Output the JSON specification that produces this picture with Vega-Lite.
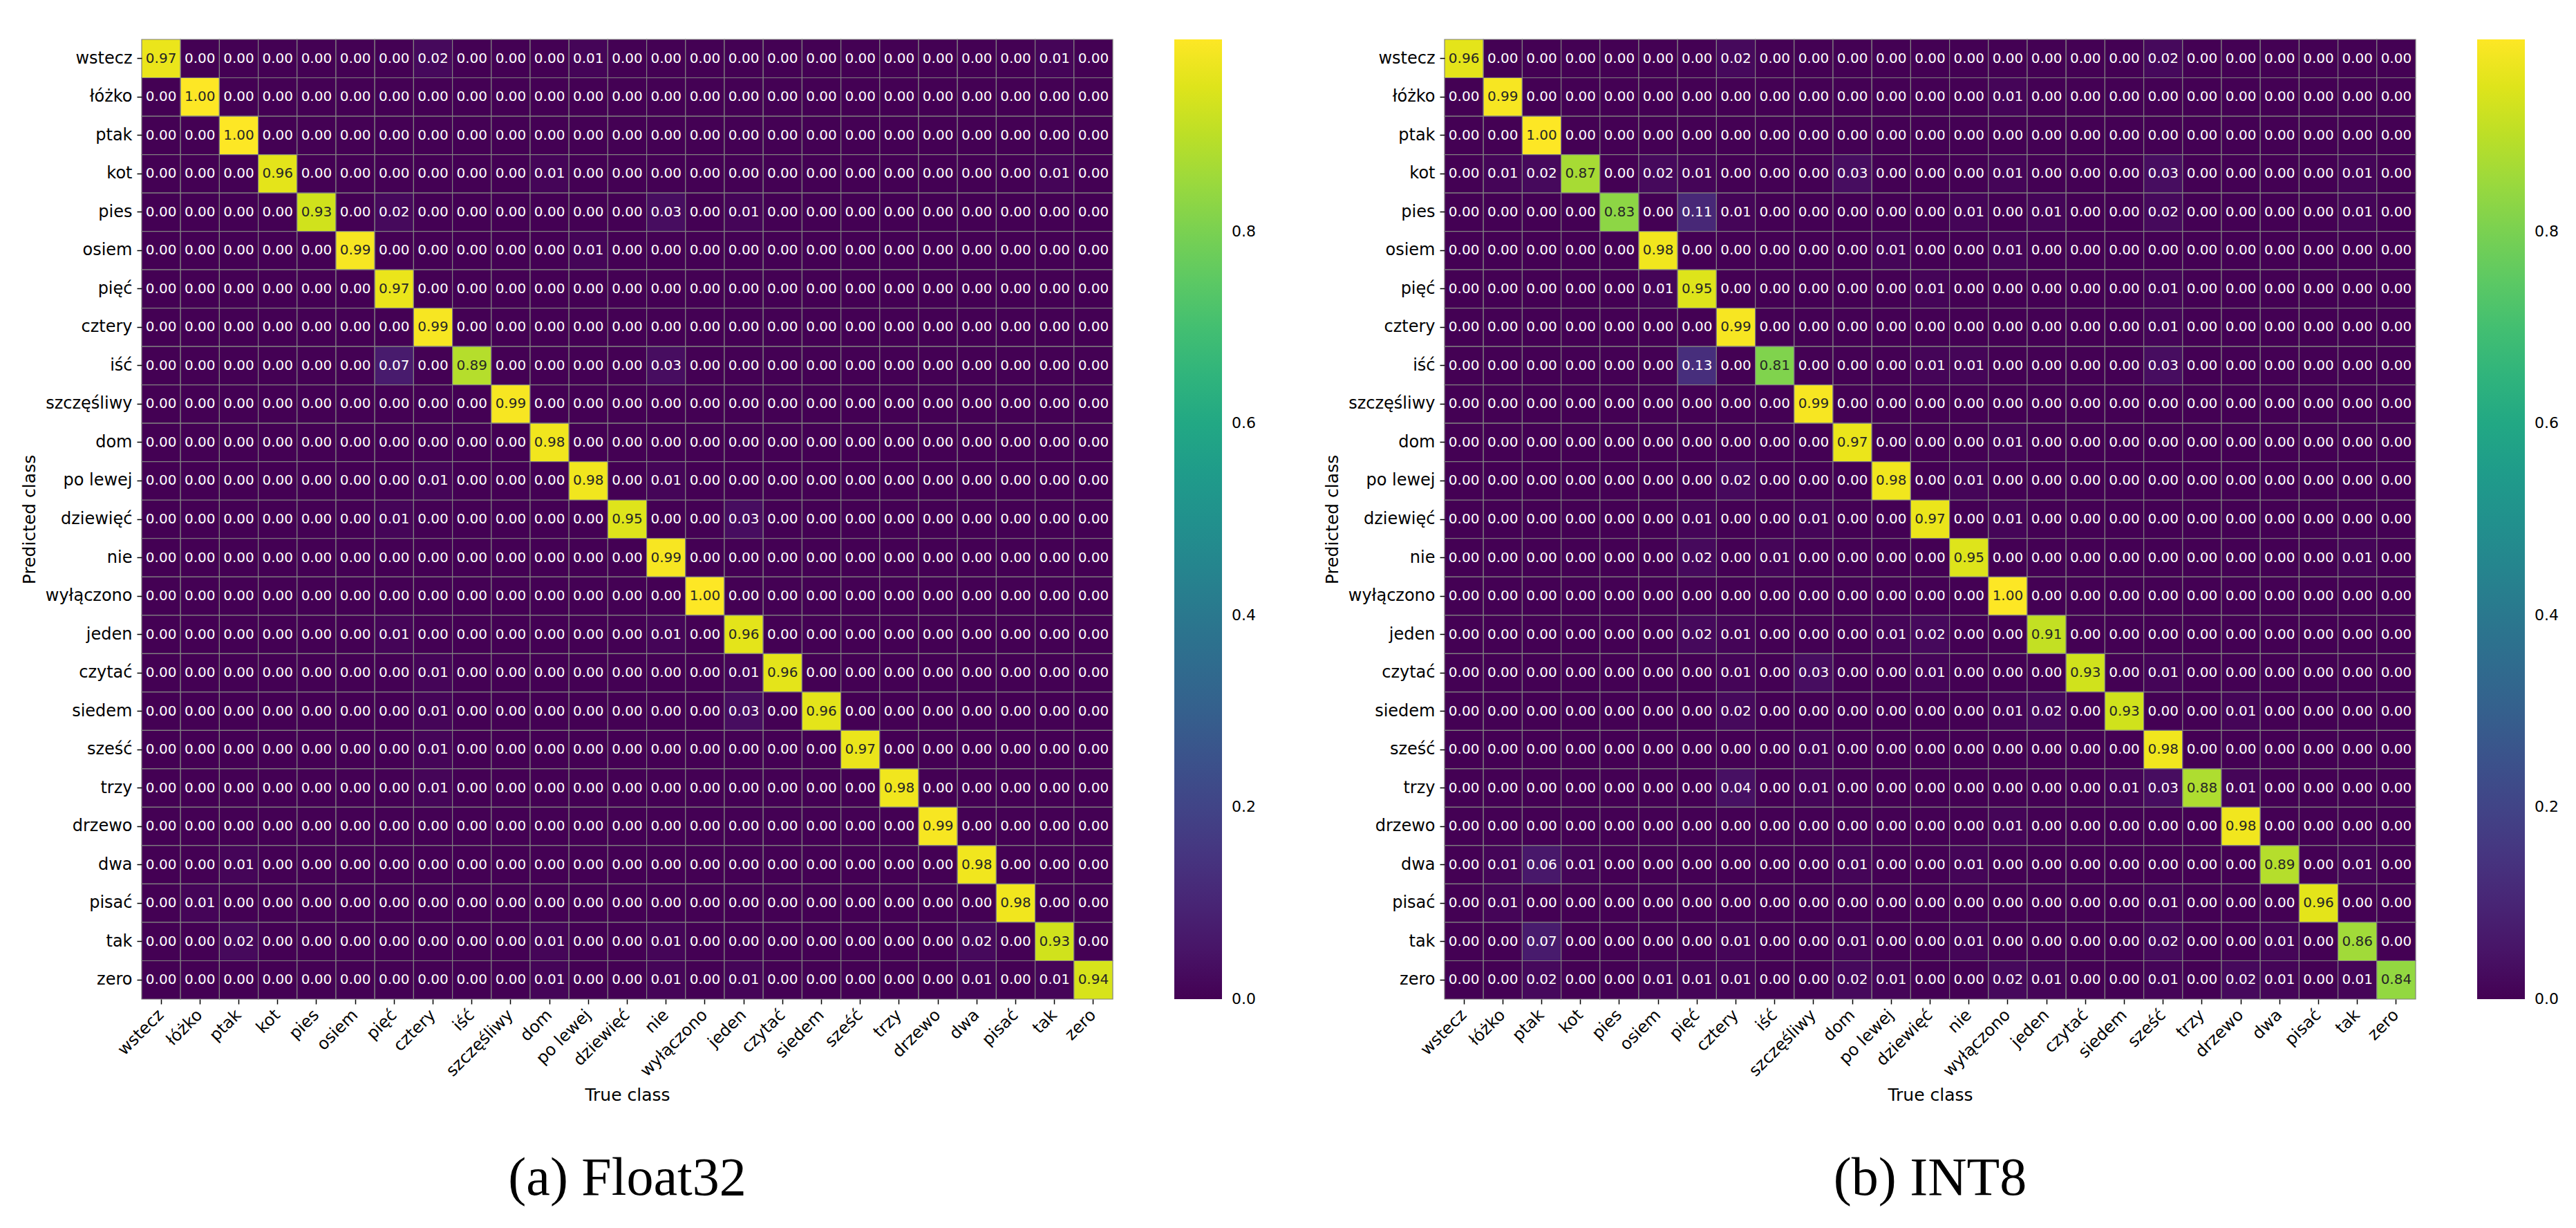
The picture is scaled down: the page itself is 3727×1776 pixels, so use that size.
{
  "$schema": "https://vega.github.io/schema/vega-lite/v6.json",
  "background": "white",
  "padding": {"left": 30, "top": 56, "right": 16, "bottom": 10},
  "spacing": 98,
  "datasets": {
    "float32": [
      {"p":"wstecz","t":"wstecz","v":0.97},{"p":"wstecz","t":"łóżko","v":0},{"p":"wstecz","t":"ptak","v":0},{"p":"wstecz","t":"kot","v":0},{"p":"wstecz","t":"pies","v":0},{"p":"wstecz","t":"osiem","v":0},{"p":"wstecz","t":"pięć","v":0},{"p":"wstecz","t":"cztery","v":0.02},{"p":"wstecz","t":"iść","v":0},{"p":"wstecz","t":"szczęśliwy","v":0},{"p":"wstecz","t":"dom","v":0},{"p":"wstecz","t":"po lewej","v":0.01},{"p":"wstecz","t":"dziewięć","v":0},{"p":"wstecz","t":"nie","v":0},{"p":"wstecz","t":"wyłączono","v":0},{"p":"wstecz","t":"jeden","v":0},{"p":"wstecz","t":"czytać","v":0},{"p":"wstecz","t":"siedem","v":0},{"p":"wstecz","t":"sześć","v":0},{"p":"wstecz","t":"trzy","v":0},{"p":"wstecz","t":"drzewo","v":0},{"p":"wstecz","t":"dwa","v":0},{"p":"wstecz","t":"pisać","v":0},{"p":"wstecz","t":"tak","v":0.01},{"p":"wstecz","t":"zero","v":0},
      {"p":"łóżko","t":"wstecz","v":0},{"p":"łóżko","t":"łóżko","v":1.0},{"p":"łóżko","t":"ptak","v":0},{"p":"łóżko","t":"kot","v":0},{"p":"łóżko","t":"pies","v":0},{"p":"łóżko","t":"osiem","v":0},{"p":"łóżko","t":"pięć","v":0},{"p":"łóżko","t":"cztery","v":0},{"p":"łóżko","t":"iść","v":0},{"p":"łóżko","t":"szczęśliwy","v":0},{"p":"łóżko","t":"dom","v":0},{"p":"łóżko","t":"po lewej","v":0},{"p":"łóżko","t":"dziewięć","v":0},{"p":"łóżko","t":"nie","v":0},{"p":"łóżko","t":"wyłączono","v":0},{"p":"łóżko","t":"jeden","v":0},{"p":"łóżko","t":"czytać","v":0},{"p":"łóżko","t":"siedem","v":0},{"p":"łóżko","t":"sześć","v":0},{"p":"łóżko","t":"trzy","v":0},{"p":"łóżko","t":"drzewo","v":0},{"p":"łóżko","t":"dwa","v":0},{"p":"łóżko","t":"pisać","v":0},{"p":"łóżko","t":"tak","v":0},{"p":"łóżko","t":"zero","v":0},
      {"p":"ptak","t":"wstecz","v":0},{"p":"ptak","t":"łóżko","v":0},{"p":"ptak","t":"ptak","v":1.0},{"p":"ptak","t":"kot","v":0},{"p":"ptak","t":"pies","v":0},{"p":"ptak","t":"osiem","v":0},{"p":"ptak","t":"pięć","v":0},{"p":"ptak","t":"cztery","v":0},{"p":"ptak","t":"iść","v":0},{"p":"ptak","t":"szczęśliwy","v":0},{"p":"ptak","t":"dom","v":0},{"p":"ptak","t":"po lewej","v":0},{"p":"ptak","t":"dziewięć","v":0},{"p":"ptak","t":"nie","v":0},{"p":"ptak","t":"wyłączono","v":0},{"p":"ptak","t":"jeden","v":0},{"p":"ptak","t":"czytać","v":0},{"p":"ptak","t":"siedem","v":0},{"p":"ptak","t":"sześć","v":0},{"p":"ptak","t":"trzy","v":0},{"p":"ptak","t":"drzewo","v":0},{"p":"ptak","t":"dwa","v":0},{"p":"ptak","t":"pisać","v":0},{"p":"ptak","t":"tak","v":0},{"p":"ptak","t":"zero","v":0},
      {"p":"kot","t":"wstecz","v":0},{"p":"kot","t":"łóżko","v":0},{"p":"kot","t":"ptak","v":0},{"p":"kot","t":"kot","v":0.96},{"p":"kot","t":"pies","v":0},{"p":"kot","t":"osiem","v":0},{"p":"kot","t":"pięć","v":0},{"p":"kot","t":"cztery","v":0},{"p":"kot","t":"iść","v":0},{"p":"kot","t":"szczęśliwy","v":0},{"p":"kot","t":"dom","v":0.01},{"p":"kot","t":"po lewej","v":0},{"p":"kot","t":"dziewięć","v":0},{"p":"kot","t":"nie","v":0},{"p":"kot","t":"wyłączono","v":0},{"p":"kot","t":"jeden","v":0},{"p":"kot","t":"czytać","v":0},{"p":"kot","t":"siedem","v":0},{"p":"kot","t":"sześć","v":0},{"p":"kot","t":"trzy","v":0},{"p":"kot","t":"drzewo","v":0},{"p":"kot","t":"dwa","v":0},{"p":"kot","t":"pisać","v":0},{"p":"kot","t":"tak","v":0.01},{"p":"kot","t":"zero","v":0},
      {"p":"pies","t":"wstecz","v":0},{"p":"pies","t":"łóżko","v":0},{"p":"pies","t":"ptak","v":0},{"p":"pies","t":"kot","v":0},{"p":"pies","t":"pies","v":0.93},{"p":"pies","t":"osiem","v":0},{"p":"pies","t":"pięć","v":0.02},{"p":"pies","t":"cztery","v":0},{"p":"pies","t":"iść","v":0},{"p":"pies","t":"szczęśliwy","v":0},{"p":"pies","t":"dom","v":0},{"p":"pies","t":"po lewej","v":0},{"p":"pies","t":"dziewięć","v":0},{"p":"pies","t":"nie","v":0.03},{"p":"pies","t":"wyłączono","v":0},{"p":"pies","t":"jeden","v":0.01},{"p":"pies","t":"czytać","v":0},{"p":"pies","t":"siedem","v":0},{"p":"pies","t":"sześć","v":0},{"p":"pies","t":"trzy","v":0},{"p":"pies","t":"drzewo","v":0},{"p":"pies","t":"dwa","v":0},{"p":"pies","t":"pisać","v":0},{"p":"pies","t":"tak","v":0},{"p":"pies","t":"zero","v":0},
      {"p":"osiem","t":"wstecz","v":0},{"p":"osiem","t":"łóżko","v":0},{"p":"osiem","t":"ptak","v":0},{"p":"osiem","t":"kot","v":0},{"p":"osiem","t":"pies","v":0},{"p":"osiem","t":"osiem","v":0.99},{"p":"osiem","t":"pięć","v":0},{"p":"osiem","t":"cztery","v":0},{"p":"osiem","t":"iść","v":0},{"p":"osiem","t":"szczęśliwy","v":0},{"p":"osiem","t":"dom","v":0},{"p":"osiem","t":"po lewej","v":0.01},{"p":"osiem","t":"dziewięć","v":0},{"p":"osiem","t":"nie","v":0},{"p":"osiem","t":"wyłączono","v":0},{"p":"osiem","t":"jeden","v":0},{"p":"osiem","t":"czytać","v":0},{"p":"osiem","t":"siedem","v":0},{"p":"osiem","t":"sześć","v":0},{"p":"osiem","t":"trzy","v":0},{"p":"osiem","t":"drzewo","v":0},{"p":"osiem","t":"dwa","v":0},{"p":"osiem","t":"pisać","v":0},{"p":"osiem","t":"tak","v":0},{"p":"osiem","t":"zero","v":0},
      {"p":"pięć","t":"wstecz","v":0},{"p":"pięć","t":"łóżko","v":0},{"p":"pięć","t":"ptak","v":0},{"p":"pięć","t":"kot","v":0},{"p":"pięć","t":"pies","v":0},{"p":"pięć","t":"osiem","v":0},{"p":"pięć","t":"pięć","v":0.97},{"p":"pięć","t":"cztery","v":0},{"p":"pięć","t":"iść","v":0},{"p":"pięć","t":"szczęśliwy","v":0},{"p":"pięć","t":"dom","v":0},{"p":"pięć","t":"po lewej","v":0},{"p":"pięć","t":"dziewięć","v":0},{"p":"pięć","t":"nie","v":0},{"p":"pięć","t":"wyłączono","v":0},{"p":"pięć","t":"jeden","v":0},{"p":"pięć","t":"czytać","v":0},{"p":"pięć","t":"siedem","v":0},{"p":"pięć","t":"sześć","v":0},{"p":"pięć","t":"trzy","v":0},{"p":"pięć","t":"drzewo","v":0},{"p":"pięć","t":"dwa","v":0},{"p":"pięć","t":"pisać","v":0},{"p":"pięć","t":"tak","v":0},{"p":"pięć","t":"zero","v":0},
      {"p":"cztery","t":"wstecz","v":0},{"p":"cztery","t":"łóżko","v":0},{"p":"cztery","t":"ptak","v":0},{"p":"cztery","t":"kot","v":0},{"p":"cztery","t":"pies","v":0},{"p":"cztery","t":"osiem","v":0},{"p":"cztery","t":"pięć","v":0},{"p":"cztery","t":"cztery","v":0.99},{"p":"cztery","t":"iść","v":0},{"p":"cztery","t":"szczęśliwy","v":0},{"p":"cztery","t":"dom","v":0},{"p":"cztery","t":"po lewej","v":0},{"p":"cztery","t":"dziewięć","v":0},{"p":"cztery","t":"nie","v":0},{"p":"cztery","t":"wyłączono","v":0},{"p":"cztery","t":"jeden","v":0},{"p":"cztery","t":"czytać","v":0},{"p":"cztery","t":"siedem","v":0},{"p":"cztery","t":"sześć","v":0},{"p":"cztery","t":"trzy","v":0},{"p":"cztery","t":"drzewo","v":0},{"p":"cztery","t":"dwa","v":0},{"p":"cztery","t":"pisać","v":0},{"p":"cztery","t":"tak","v":0},{"p":"cztery","t":"zero","v":0},
      {"p":"iść","t":"wstecz","v":0},{"p":"iść","t":"łóżko","v":0},{"p":"iść","t":"ptak","v":0},{"p":"iść","t":"kot","v":0},{"p":"iść","t":"pies","v":0},{"p":"iść","t":"osiem","v":0},{"p":"iść","t":"pięć","v":0.07},{"p":"iść","t":"cztery","v":0},{"p":"iść","t":"iść","v":0.89},{"p":"iść","t":"szczęśliwy","v":0},{"p":"iść","t":"dom","v":0},{"p":"iść","t":"po lewej","v":0},{"p":"iść","t":"dziewięć","v":0},{"p":"iść","t":"nie","v":0.03},{"p":"iść","t":"wyłączono","v":0},{"p":"iść","t":"jeden","v":0},{"p":"iść","t":"czytać","v":0},{"p":"iść","t":"siedem","v":0},{"p":"iść","t":"sześć","v":0},{"p":"iść","t":"trzy","v":0},{"p":"iść","t":"drzewo","v":0},{"p":"iść","t":"dwa","v":0},{"p":"iść","t":"pisać","v":0},{"p":"iść","t":"tak","v":0},{"p":"iść","t":"zero","v":0},
      {"p":"szczęśliwy","t":"wstecz","v":0},{"p":"szczęśliwy","t":"łóżko","v":0},{"p":"szczęśliwy","t":"ptak","v":0},{"p":"szczęśliwy","t":"kot","v":0},{"p":"szczęśliwy","t":"pies","v":0},{"p":"szczęśliwy","t":"osiem","v":0},{"p":"szczęśliwy","t":"pięć","v":0},{"p":"szczęśliwy","t":"cztery","v":0},{"p":"szczęśliwy","t":"iść","v":0},{"p":"szczęśliwy","t":"szczęśliwy","v":0.99},{"p":"szczęśliwy","t":"dom","v":0},{"p":"szczęśliwy","t":"po lewej","v":0},{"p":"szczęśliwy","t":"dziewięć","v":0},{"p":"szczęśliwy","t":"nie","v":0},{"p":"szczęśliwy","t":"wyłączono","v":0},{"p":"szczęśliwy","t":"jeden","v":0},{"p":"szczęśliwy","t":"czytać","v":0},{"p":"szczęśliwy","t":"siedem","v":0},{"p":"szczęśliwy","t":"sześć","v":0},{"p":"szczęśliwy","t":"trzy","v":0},{"p":"szczęśliwy","t":"drzewo","v":0},{"p":"szczęśliwy","t":"dwa","v":0},{"p":"szczęśliwy","t":"pisać","v":0},{"p":"szczęśliwy","t":"tak","v":0},{"p":"szczęśliwy","t":"zero","v":0},
      {"p":"dom","t":"wstecz","v":0},{"p":"dom","t":"łóżko","v":0},{"p":"dom","t":"ptak","v":0},{"p":"dom","t":"kot","v":0},{"p":"dom","t":"pies","v":0},{"p":"dom","t":"osiem","v":0},{"p":"dom","t":"pięć","v":0},{"p":"dom","t":"cztery","v":0},{"p":"dom","t":"iść","v":0},{"p":"dom","t":"szczęśliwy","v":0},{"p":"dom","t":"dom","v":0.98},{"p":"dom","t":"po lewej","v":0},{"p":"dom","t":"dziewięć","v":0},{"p":"dom","t":"nie","v":0},{"p":"dom","t":"wyłączono","v":0},{"p":"dom","t":"jeden","v":0},{"p":"dom","t":"czytać","v":0},{"p":"dom","t":"siedem","v":0},{"p":"dom","t":"sześć","v":0},{"p":"dom","t":"trzy","v":0},{"p":"dom","t":"drzewo","v":0},{"p":"dom","t":"dwa","v":0},{"p":"dom","t":"pisać","v":0},{"p":"dom","t":"tak","v":0},{"p":"dom","t":"zero","v":0},
      {"p":"po lewej","t":"wstecz","v":0},{"p":"po lewej","t":"łóżko","v":0},{"p":"po lewej","t":"ptak","v":0},{"p":"po lewej","t":"kot","v":0},{"p":"po lewej","t":"pies","v":0},{"p":"po lewej","t":"osiem","v":0},{"p":"po lewej","t":"pięć","v":0},{"p":"po lewej","t":"cztery","v":0.01},{"p":"po lewej","t":"iść","v":0},{"p":"po lewej","t":"szczęśliwy","v":0},{"p":"po lewej","t":"dom","v":0},{"p":"po lewej","t":"po lewej","v":0.98},{"p":"po lewej","t":"dziewięć","v":0},{"p":"po lewej","t":"nie","v":0.01},{"p":"po lewej","t":"wyłączono","v":0},{"p":"po lewej","t":"jeden","v":0},{"p":"po lewej","t":"czytać","v":0},{"p":"po lewej","t":"siedem","v":0},{"p":"po lewej","t":"sześć","v":0},{"p":"po lewej","t":"trzy","v":0},{"p":"po lewej","t":"drzewo","v":0},{"p":"po lewej","t":"dwa","v":0},{"p":"po lewej","t":"pisać","v":0},{"p":"po lewej","t":"tak","v":0},{"p":"po lewej","t":"zero","v":0},
      {"p":"dziewięć","t":"wstecz","v":0},{"p":"dziewięć","t":"łóżko","v":0},{"p":"dziewięć","t":"ptak","v":0},{"p":"dziewięć","t":"kot","v":0},{"p":"dziewięć","t":"pies","v":0},{"p":"dziewięć","t":"osiem","v":0},{"p":"dziewięć","t":"pięć","v":0.01},{"p":"dziewięć","t":"cztery","v":0},{"p":"dziewięć","t":"iść","v":0},{"p":"dziewięć","t":"szczęśliwy","v":0},{"p":"dziewięć","t":"dom","v":0},{"p":"dziewięć","t":"po lewej","v":0},{"p":"dziewięć","t":"dziewięć","v":0.95},{"p":"dziewięć","t":"nie","v":0},{"p":"dziewięć","t":"wyłączono","v":0},{"p":"dziewięć","t":"jeden","v":0.03},{"p":"dziewięć","t":"czytać","v":0},{"p":"dziewięć","t":"siedem","v":0},{"p":"dziewięć","t":"sześć","v":0},{"p":"dziewięć","t":"trzy","v":0},{"p":"dziewięć","t":"drzewo","v":0},{"p":"dziewięć","t":"dwa","v":0},{"p":"dziewięć","t":"pisać","v":0},{"p":"dziewięć","t":"tak","v":0},{"p":"dziewięć","t":"zero","v":0},
      {"p":"nie","t":"wstecz","v":0},{"p":"nie","t":"łóżko","v":0},{"p":"nie","t":"ptak","v":0},{"p":"nie","t":"kot","v":0},{"p":"nie","t":"pies","v":0},{"p":"nie","t":"osiem","v":0},{"p":"nie","t":"pięć","v":0},{"p":"nie","t":"cztery","v":0},{"p":"nie","t":"iść","v":0},{"p":"nie","t":"szczęśliwy","v":0},{"p":"nie","t":"dom","v":0},{"p":"nie","t":"po lewej","v":0},{"p":"nie","t":"dziewięć","v":0},{"p":"nie","t":"nie","v":0.99},{"p":"nie","t":"wyłączono","v":0},{"p":"nie","t":"jeden","v":0},{"p":"nie","t":"czytać","v":0},{"p":"nie","t":"siedem","v":0},{"p":"nie","t":"sześć","v":0},{"p":"nie","t":"trzy","v":0},{"p":"nie","t":"drzewo","v":0},{"p":"nie","t":"dwa","v":0},{"p":"nie","t":"pisać","v":0},{"p":"nie","t":"tak","v":0},{"p":"nie","t":"zero","v":0},
      {"p":"wyłączono","t":"wstecz","v":0},{"p":"wyłączono","t":"łóżko","v":0},{"p":"wyłączono","t":"ptak","v":0},{"p":"wyłączono","t":"kot","v":0},{"p":"wyłączono","t":"pies","v":0},{"p":"wyłączono","t":"osiem","v":0},{"p":"wyłączono","t":"pięć","v":0},{"p":"wyłączono","t":"cztery","v":0},{"p":"wyłączono","t":"iść","v":0},{"p":"wyłączono","t":"szczęśliwy","v":0},{"p":"wyłączono","t":"dom","v":0},{"p":"wyłączono","t":"po lewej","v":0},{"p":"wyłączono","t":"dziewięć","v":0},{"p":"wyłączono","t":"nie","v":0},{"p":"wyłączono","t":"wyłączono","v":1.0},{"p":"wyłączono","t":"jeden","v":0},{"p":"wyłączono","t":"czytać","v":0},{"p":"wyłączono","t":"siedem","v":0},{"p":"wyłączono","t":"sześć","v":0},{"p":"wyłączono","t":"trzy","v":0},{"p":"wyłączono","t":"drzewo","v":0},{"p":"wyłączono","t":"dwa","v":0},{"p":"wyłączono","t":"pisać","v":0},{"p":"wyłączono","t":"tak","v":0},{"p":"wyłączono","t":"zero","v":0},
      {"p":"jeden","t":"wstecz","v":0},{"p":"jeden","t":"łóżko","v":0},{"p":"jeden","t":"ptak","v":0},{"p":"jeden","t":"kot","v":0},{"p":"jeden","t":"pies","v":0},{"p":"jeden","t":"osiem","v":0},{"p":"jeden","t":"pięć","v":0.01},{"p":"jeden","t":"cztery","v":0},{"p":"jeden","t":"iść","v":0},{"p":"jeden","t":"szczęśliwy","v":0},{"p":"jeden","t":"dom","v":0},{"p":"jeden","t":"po lewej","v":0},{"p":"jeden","t":"dziewięć","v":0},{"p":"jeden","t":"nie","v":0.01},{"p":"jeden","t":"wyłączono","v":0},{"p":"jeden","t":"jeden","v":0.96},{"p":"jeden","t":"czytać","v":0},{"p":"jeden","t":"siedem","v":0},{"p":"jeden","t":"sześć","v":0},{"p":"jeden","t":"trzy","v":0},{"p":"jeden","t":"drzewo","v":0},{"p":"jeden","t":"dwa","v":0},{"p":"jeden","t":"pisać","v":0},{"p":"jeden","t":"tak","v":0},{"p":"jeden","t":"zero","v":0},
      {"p":"czytać","t":"wstecz","v":0},{"p":"czytać","t":"łóżko","v":0},{"p":"czytać","t":"ptak","v":0},{"p":"czytać","t":"kot","v":0},{"p":"czytać","t":"pies","v":0},{"p":"czytać","t":"osiem","v":0},{"p":"czytać","t":"pięć","v":0},{"p":"czytać","t":"cztery","v":0.01},{"p":"czytać","t":"iść","v":0},{"p":"czytać","t":"szczęśliwy","v":0},{"p":"czytać","t":"dom","v":0},{"p":"czytać","t":"po lewej","v":0},{"p":"czytać","t":"dziewięć","v":0},{"p":"czytać","t":"nie","v":0},{"p":"czytać","t":"wyłączono","v":0},{"p":"czytać","t":"jeden","v":0.01},{"p":"czytać","t":"czytać","v":0.96},{"p":"czytać","t":"siedem","v":0},{"p":"czytać","t":"sześć","v":0},{"p":"czytać","t":"trzy","v":0},{"p":"czytać","t":"drzewo","v":0},{"p":"czytać","t":"dwa","v":0},{"p":"czytać","t":"pisać","v":0},{"p":"czytać","t":"tak","v":0},{"p":"czytać","t":"zero","v":0},
      {"p":"siedem","t":"wstecz","v":0},{"p":"siedem","t":"łóżko","v":0},{"p":"siedem","t":"ptak","v":0},{"p":"siedem","t":"kot","v":0},{"p":"siedem","t":"pies","v":0},{"p":"siedem","t":"osiem","v":0},{"p":"siedem","t":"pięć","v":0},{"p":"siedem","t":"cztery","v":0.01},{"p":"siedem","t":"iść","v":0},{"p":"siedem","t":"szczęśliwy","v":0},{"p":"siedem","t":"dom","v":0},{"p":"siedem","t":"po lewej","v":0},{"p":"siedem","t":"dziewięć","v":0},{"p":"siedem","t":"nie","v":0},{"p":"siedem","t":"wyłączono","v":0},{"p":"siedem","t":"jeden","v":0.03},{"p":"siedem","t":"czytać","v":0},{"p":"siedem","t":"siedem","v":0.96},{"p":"siedem","t":"sześć","v":0},{"p":"siedem","t":"trzy","v":0},{"p":"siedem","t":"drzewo","v":0},{"p":"siedem","t":"dwa","v":0},{"p":"siedem","t":"pisać","v":0},{"p":"siedem","t":"tak","v":0},{"p":"siedem","t":"zero","v":0},
      {"p":"sześć","t":"wstecz","v":0},{"p":"sześć","t":"łóżko","v":0},{"p":"sześć","t":"ptak","v":0},{"p":"sześć","t":"kot","v":0},{"p":"sześć","t":"pies","v":0},{"p":"sześć","t":"osiem","v":0},{"p":"sześć","t":"pięć","v":0},{"p":"sześć","t":"cztery","v":0.01},{"p":"sześć","t":"iść","v":0},{"p":"sześć","t":"szczęśliwy","v":0},{"p":"sześć","t":"dom","v":0},{"p":"sześć","t":"po lewej","v":0},{"p":"sześć","t":"dziewięć","v":0},{"p":"sześć","t":"nie","v":0},{"p":"sześć","t":"wyłączono","v":0},{"p":"sześć","t":"jeden","v":0},{"p":"sześć","t":"czytać","v":0},{"p":"sześć","t":"siedem","v":0},{"p":"sześć","t":"sześć","v":0.97},{"p":"sześć","t":"trzy","v":0},{"p":"sześć","t":"drzewo","v":0},{"p":"sześć","t":"dwa","v":0},{"p":"sześć","t":"pisać","v":0},{"p":"sześć","t":"tak","v":0},{"p":"sześć","t":"zero","v":0},
      {"p":"trzy","t":"wstecz","v":0},{"p":"trzy","t":"łóżko","v":0},{"p":"trzy","t":"ptak","v":0},{"p":"trzy","t":"kot","v":0},{"p":"trzy","t":"pies","v":0},{"p":"trzy","t":"osiem","v":0},{"p":"trzy","t":"pięć","v":0},{"p":"trzy","t":"cztery","v":0.01},{"p":"trzy","t":"iść","v":0},{"p":"trzy","t":"szczęśliwy","v":0},{"p":"trzy","t":"dom","v":0},{"p":"trzy","t":"po lewej","v":0},{"p":"trzy","t":"dziewięć","v":0},{"p":"trzy","t":"nie","v":0},{"p":"trzy","t":"wyłączono","v":0},{"p":"trzy","t":"jeden","v":0},{"p":"trzy","t":"czytać","v":0},{"p":"trzy","t":"siedem","v":0},{"p":"trzy","t":"sześć","v":0},{"p":"trzy","t":"trzy","v":0.98},{"p":"trzy","t":"drzewo","v":0},{"p":"trzy","t":"dwa","v":0},{"p":"trzy","t":"pisać","v":0},{"p":"trzy","t":"tak","v":0},{"p":"trzy","t":"zero","v":0},
      {"p":"drzewo","t":"wstecz","v":0},{"p":"drzewo","t":"łóżko","v":0},{"p":"drzewo","t":"ptak","v":0},{"p":"drzewo","t":"kot","v":0},{"p":"drzewo","t":"pies","v":0},{"p":"drzewo","t":"osiem","v":0},{"p":"drzewo","t":"pięć","v":0},{"p":"drzewo","t":"cztery","v":0},{"p":"drzewo","t":"iść","v":0},{"p":"drzewo","t":"szczęśliwy","v":0},{"p":"drzewo","t":"dom","v":0},{"p":"drzewo","t":"po lewej","v":0},{"p":"drzewo","t":"dziewięć","v":0},{"p":"drzewo","t":"nie","v":0},{"p":"drzewo","t":"wyłączono","v":0},{"p":"drzewo","t":"jeden","v":0},{"p":"drzewo","t":"czytać","v":0},{"p":"drzewo","t":"siedem","v":0},{"p":"drzewo","t":"sześć","v":0},{"p":"drzewo","t":"trzy","v":0},{"p":"drzewo","t":"drzewo","v":0.99},{"p":"drzewo","t":"dwa","v":0},{"p":"drzewo","t":"pisać","v":0},{"p":"drzewo","t":"tak","v":0},{"p":"drzewo","t":"zero","v":0},
      {"p":"dwa","t":"wstecz","v":0},{"p":"dwa","t":"łóżko","v":0},{"p":"dwa","t":"ptak","v":0.01},{"p":"dwa","t":"kot","v":0},{"p":"dwa","t":"pies","v":0},{"p":"dwa","t":"osiem","v":0},{"p":"dwa","t":"pięć","v":0},{"p":"dwa","t":"cztery","v":0},{"p":"dwa","t":"iść","v":0},{"p":"dwa","t":"szczęśliwy","v":0},{"p":"dwa","t":"dom","v":0},{"p":"dwa","t":"po lewej","v":0},{"p":"dwa","t":"dziewięć","v":0},{"p":"dwa","t":"nie","v":0},{"p":"dwa","t":"wyłączono","v":0},{"p":"dwa","t":"jeden","v":0},{"p":"dwa","t":"czytać","v":0},{"p":"dwa","t":"siedem","v":0},{"p":"dwa","t":"sześć","v":0},{"p":"dwa","t":"trzy","v":0},{"p":"dwa","t":"drzewo","v":0},{"p":"dwa","t":"dwa","v":0.98},{"p":"dwa","t":"pisać","v":0},{"p":"dwa","t":"tak","v":0},{"p":"dwa","t":"zero","v":0},
      {"p":"pisać","t":"wstecz","v":0},{"p":"pisać","t":"łóżko","v":0.01},{"p":"pisać","t":"ptak","v":0},{"p":"pisać","t":"kot","v":0},{"p":"pisać","t":"pies","v":0},{"p":"pisać","t":"osiem","v":0},{"p":"pisać","t":"pięć","v":0},{"p":"pisać","t":"cztery","v":0},{"p":"pisać","t":"iść","v":0},{"p":"pisać","t":"szczęśliwy","v":0},{"p":"pisać","t":"dom","v":0},{"p":"pisać","t":"po lewej","v":0},{"p":"pisać","t":"dziewięć","v":0},{"p":"pisać","t":"nie","v":0},{"p":"pisać","t":"wyłączono","v":0},{"p":"pisać","t":"jeden","v":0},{"p":"pisać","t":"czytać","v":0},{"p":"pisać","t":"siedem","v":0},{"p":"pisać","t":"sześć","v":0},{"p":"pisać","t":"trzy","v":0},{"p":"pisać","t":"drzewo","v":0},{"p":"pisać","t":"dwa","v":0},{"p":"pisać","t":"pisać","v":0.98},{"p":"pisać","t":"tak","v":0},{"p":"pisać","t":"zero","v":0},
      {"p":"tak","t":"wstecz","v":0},{"p":"tak","t":"łóżko","v":0},{"p":"tak","t":"ptak","v":0.02},{"p":"tak","t":"kot","v":0},{"p":"tak","t":"pies","v":0},{"p":"tak","t":"osiem","v":0},{"p":"tak","t":"pięć","v":0},{"p":"tak","t":"cztery","v":0},{"p":"tak","t":"iść","v":0},{"p":"tak","t":"szczęśliwy","v":0},{"p":"tak","t":"dom","v":0.01},{"p":"tak","t":"po lewej","v":0},{"p":"tak","t":"dziewięć","v":0},{"p":"tak","t":"nie","v":0.01},{"p":"tak","t":"wyłączono","v":0},{"p":"tak","t":"jeden","v":0},{"p":"tak","t":"czytać","v":0},{"p":"tak","t":"siedem","v":0},{"p":"tak","t":"sześć","v":0},{"p":"tak","t":"trzy","v":0},{"p":"tak","t":"drzewo","v":0},{"p":"tak","t":"dwa","v":0.02},{"p":"tak","t":"pisać","v":0},{"p":"tak","t":"tak","v":0.93},{"p":"tak","t":"zero","v":0},
      {"p":"zero","t":"wstecz","v":0},{"p":"zero","t":"łóżko","v":0},{"p":"zero","t":"ptak","v":0},{"p":"zero","t":"kot","v":0},{"p":"zero","t":"pies","v":0},{"p":"zero","t":"osiem","v":0},{"p":"zero","t":"pięć","v":0},{"p":"zero","t":"cztery","v":0},{"p":"zero","t":"iść","v":0},{"p":"zero","t":"szczęśliwy","v":0},{"p":"zero","t":"dom","v":0.01},{"p":"zero","t":"po lewej","v":0},{"p":"zero","t":"dziewięć","v":0},{"p":"zero","t":"nie","v":0.01},{"p":"zero","t":"wyłączono","v":0},{"p":"zero","t":"jeden","v":0.01},{"p":"zero","t":"czytać","v":0},{"p":"zero","t":"siedem","v":0},{"p":"zero","t":"sześć","v":0},{"p":"zero","t":"trzy","v":0},{"p":"zero","t":"drzewo","v":0},{"p":"zero","t":"dwa","v":0.01},{"p":"zero","t":"pisać","v":0},{"p":"zero","t":"tak","v":0.01},{"p":"zero","t":"zero","v":0.94}
    ],
    "int8": [
      {"p":"wstecz","t":"wstecz","v":0.96},{"p":"wstecz","t":"łóżko","v":0},{"p":"wstecz","t":"ptak","v":0},{"p":"wstecz","t":"kot","v":0},{"p":"wstecz","t":"pies","v":0},{"p":"wstecz","t":"osiem","v":0},{"p":"wstecz","t":"pięć","v":0},{"p":"wstecz","t":"cztery","v":0.02},{"p":"wstecz","t":"iść","v":0},{"p":"wstecz","t":"szczęśliwy","v":0},{"p":"wstecz","t":"dom","v":0},{"p":"wstecz","t":"po lewej","v":0},{"p":"wstecz","t":"dziewięć","v":0},{"p":"wstecz","t":"nie","v":0},{"p":"wstecz","t":"wyłączono","v":0},{"p":"wstecz","t":"jeden","v":0},{"p":"wstecz","t":"czytać","v":0},{"p":"wstecz","t":"siedem","v":0},{"p":"wstecz","t":"sześć","v":0.02},{"p":"wstecz","t":"trzy","v":0},{"p":"wstecz","t":"drzewo","v":0},{"p":"wstecz","t":"dwa","v":0},{"p":"wstecz","t":"pisać","v":0},{"p":"wstecz","t":"tak","v":0},{"p":"wstecz","t":"zero","v":0},
      {"p":"łóżko","t":"wstecz","v":0},{"p":"łóżko","t":"łóżko","v":0.99},{"p":"łóżko","t":"ptak","v":0},{"p":"łóżko","t":"kot","v":0},{"p":"łóżko","t":"pies","v":0},{"p":"łóżko","t":"osiem","v":0},{"p":"łóżko","t":"pięć","v":0},{"p":"łóżko","t":"cztery","v":0},{"p":"łóżko","t":"iść","v":0},{"p":"łóżko","t":"szczęśliwy","v":0},{"p":"łóżko","t":"dom","v":0},{"p":"łóżko","t":"po lewej","v":0},{"p":"łóżko","t":"dziewięć","v":0},{"p":"łóżko","t":"nie","v":0},{"p":"łóżko","t":"wyłączono","v":0.01},{"p":"łóżko","t":"jeden","v":0},{"p":"łóżko","t":"czytać","v":0},{"p":"łóżko","t":"siedem","v":0},{"p":"łóżko","t":"sześć","v":0},{"p":"łóżko","t":"trzy","v":0},{"p":"łóżko","t":"drzewo","v":0},{"p":"łóżko","t":"dwa","v":0},{"p":"łóżko","t":"pisać","v":0},{"p":"łóżko","t":"tak","v":0},{"p":"łóżko","t":"zero","v":0},
      {"p":"ptak","t":"wstecz","v":0},{"p":"ptak","t":"łóżko","v":0},{"p":"ptak","t":"ptak","v":1.0},{"p":"ptak","t":"kot","v":0},{"p":"ptak","t":"pies","v":0},{"p":"ptak","t":"osiem","v":0},{"p":"ptak","t":"pięć","v":0},{"p":"ptak","t":"cztery","v":0},{"p":"ptak","t":"iść","v":0},{"p":"ptak","t":"szczęśliwy","v":0},{"p":"ptak","t":"dom","v":0},{"p":"ptak","t":"po lewej","v":0},{"p":"ptak","t":"dziewięć","v":0},{"p":"ptak","t":"nie","v":0},{"p":"ptak","t":"wyłączono","v":0},{"p":"ptak","t":"jeden","v":0},{"p":"ptak","t":"czytać","v":0},{"p":"ptak","t":"siedem","v":0},{"p":"ptak","t":"sześć","v":0},{"p":"ptak","t":"trzy","v":0},{"p":"ptak","t":"drzewo","v":0},{"p":"ptak","t":"dwa","v":0},{"p":"ptak","t":"pisać","v":0},{"p":"ptak","t":"tak","v":0},{"p":"ptak","t":"zero","v":0},
      {"p":"kot","t":"wstecz","v":0},{"p":"kot","t":"łóżko","v":0.01},{"p":"kot","t":"ptak","v":0.02},{"p":"kot","t":"kot","v":0.87},{"p":"kot","t":"pies","v":0},{"p":"kot","t":"osiem","v":0.02},{"p":"kot","t":"pięć","v":0.01},{"p":"kot","t":"cztery","v":0},{"p":"kot","t":"iść","v":0},{"p":"kot","t":"szczęśliwy","v":0},{"p":"kot","t":"dom","v":0.03},{"p":"kot","t":"po lewej","v":0},{"p":"kot","t":"dziewięć","v":0},{"p":"kot","t":"nie","v":0},{"p":"kot","t":"wyłączono","v":0.01},{"p":"kot","t":"jeden","v":0},{"p":"kot","t":"czytać","v":0},{"p":"kot","t":"siedem","v":0},{"p":"kot","t":"sześć","v":0.03},{"p":"kot","t":"trzy","v":0},{"p":"kot","t":"drzewo","v":0},{"p":"kot","t":"dwa","v":0},{"p":"kot","t":"pisać","v":0},{"p":"kot","t":"tak","v":0.01},{"p":"kot","t":"zero","v":0},
      {"p":"pies","t":"wstecz","v":0},{"p":"pies","t":"łóżko","v":0},{"p":"pies","t":"ptak","v":0},{"p":"pies","t":"kot","v":0},{"p":"pies","t":"pies","v":0.83},{"p":"pies","t":"osiem","v":0},{"p":"pies","t":"pięć","v":0.11},{"p":"pies","t":"cztery","v":0.01},{"p":"pies","t":"iść","v":0},{"p":"pies","t":"szczęśliwy","v":0},{"p":"pies","t":"dom","v":0},{"p":"pies","t":"po lewej","v":0},{"p":"pies","t":"dziewięć","v":0},{"p":"pies","t":"nie","v":0.01},{"p":"pies","t":"wyłączono","v":0},{"p":"pies","t":"jeden","v":0.01},{"p":"pies","t":"czytać","v":0},{"p":"pies","t":"siedem","v":0},{"p":"pies","t":"sześć","v":0.02},{"p":"pies","t":"trzy","v":0},{"p":"pies","t":"drzewo","v":0},{"p":"pies","t":"dwa","v":0},{"p":"pies","t":"pisać","v":0},{"p":"pies","t":"tak","v":0.01},{"p":"pies","t":"zero","v":0},
      {"p":"osiem","t":"wstecz","v":0},{"p":"osiem","t":"łóżko","v":0},{"p":"osiem","t":"ptak","v":0},{"p":"osiem","t":"kot","v":0},{"p":"osiem","t":"pies","v":0},{"p":"osiem","t":"osiem","v":0.98},{"p":"osiem","t":"pięć","v":0},{"p":"osiem","t":"cztery","v":0},{"p":"osiem","t":"iść","v":0},{"p":"osiem","t":"szczęśliwy","v":0},{"p":"osiem","t":"dom","v":0},{"p":"osiem","t":"po lewej","v":0.01},{"p":"osiem","t":"dziewięć","v":0},{"p":"osiem","t":"nie","v":0},{"p":"osiem","t":"wyłączono","v":0.01},{"p":"osiem","t":"jeden","v":0},{"p":"osiem","t":"czytać","v":0},{"p":"osiem","t":"siedem","v":0},{"p":"osiem","t":"sześć","v":0},{"p":"osiem","t":"trzy","v":0},{"p":"osiem","t":"drzewo","v":0},{"p":"osiem","t":"dwa","v":0},{"p":"osiem","t":"pisać","v":0},{"p":"osiem","t":"tak","v":0},{"p":"osiem","t":"zero","v":0},
      {"p":"pięć","t":"wstecz","v":0},{"p":"pięć","t":"łóżko","v":0},{"p":"pięć","t":"ptak","v":0},{"p":"pięć","t":"kot","v":0},{"p":"pięć","t":"pies","v":0},{"p":"pięć","t":"osiem","v":0.01},{"p":"pięć","t":"pięć","v":0.95},{"p":"pięć","t":"cztery","v":0},{"p":"pięć","t":"iść","v":0},{"p":"pięć","t":"szczęśliwy","v":0},{"p":"pięć","t":"dom","v":0},{"p":"pięć","t":"po lewej","v":0},{"p":"pięć","t":"dziewięć","v":0.01},{"p":"pięć","t":"nie","v":0},{"p":"pięć","t":"wyłączono","v":0},{"p":"pięć","t":"jeden","v":0},{"p":"pięć","t":"czytać","v":0},{"p":"pięć","t":"siedem","v":0},{"p":"pięć","t":"sześć","v":0.01},{"p":"pięć","t":"trzy","v":0},{"p":"pięć","t":"drzewo","v":0},{"p":"pięć","t":"dwa","v":0},{"p":"pięć","t":"pisać","v":0},{"p":"pięć","t":"tak","v":0},{"p":"pięć","t":"zero","v":0},
      {"p":"cztery","t":"wstecz","v":0},{"p":"cztery","t":"łóżko","v":0},{"p":"cztery","t":"ptak","v":0},{"p":"cztery","t":"kot","v":0},{"p":"cztery","t":"pies","v":0},{"p":"cztery","t":"osiem","v":0},{"p":"cztery","t":"pięć","v":0},{"p":"cztery","t":"cztery","v":0.99},{"p":"cztery","t":"iść","v":0},{"p":"cztery","t":"szczęśliwy","v":0},{"p":"cztery","t":"dom","v":0},{"p":"cztery","t":"po lewej","v":0},{"p":"cztery","t":"dziewięć","v":0},{"p":"cztery","t":"nie","v":0},{"p":"cztery","t":"wyłączono","v":0},{"p":"cztery","t":"jeden","v":0},{"p":"cztery","t":"czytać","v":0},{"p":"cztery","t":"siedem","v":0},{"p":"cztery","t":"sześć","v":0.01},{"p":"cztery","t":"trzy","v":0},{"p":"cztery","t":"drzewo","v":0},{"p":"cztery","t":"dwa","v":0},{"p":"cztery","t":"pisać","v":0},{"p":"cztery","t":"tak","v":0},{"p":"cztery","t":"zero","v":0},
      {"p":"iść","t":"wstecz","v":0},{"p":"iść","t":"łóżko","v":0},{"p":"iść","t":"ptak","v":0},{"p":"iść","t":"kot","v":0},{"p":"iść","t":"pies","v":0},{"p":"iść","t":"osiem","v":0},{"p":"iść","t":"pięć","v":0.13},{"p":"iść","t":"cztery","v":0},{"p":"iść","t":"iść","v":0.81},{"p":"iść","t":"szczęśliwy","v":0},{"p":"iść","t":"dom","v":0},{"p":"iść","t":"po lewej","v":0},{"p":"iść","t":"dziewięć","v":0.01},{"p":"iść","t":"nie","v":0.01},{"p":"iść","t":"wyłączono","v":0},{"p":"iść","t":"jeden","v":0},{"p":"iść","t":"czytać","v":0},{"p":"iść","t":"siedem","v":0},{"p":"iść","t":"sześć","v":0.03},{"p":"iść","t":"trzy","v":0},{"p":"iść","t":"drzewo","v":0},{"p":"iść","t":"dwa","v":0},{"p":"iść","t":"pisać","v":0},{"p":"iść","t":"tak","v":0},{"p":"iść","t":"zero","v":0},
      {"p":"szczęśliwy","t":"wstecz","v":0},{"p":"szczęśliwy","t":"łóżko","v":0},{"p":"szczęśliwy","t":"ptak","v":0},{"p":"szczęśliwy","t":"kot","v":0},{"p":"szczęśliwy","t":"pies","v":0},{"p":"szczęśliwy","t":"osiem","v":0},{"p":"szczęśliwy","t":"pięć","v":0},{"p":"szczęśliwy","t":"cztery","v":0},{"p":"szczęśliwy","t":"iść","v":0},{"p":"szczęśliwy","t":"szczęśliwy","v":0.99},{"p":"szczęśliwy","t":"dom","v":0},{"p":"szczęśliwy","t":"po lewej","v":0},{"p":"szczęśliwy","t":"dziewięć","v":0},{"p":"szczęśliwy","t":"nie","v":0},{"p":"szczęśliwy","t":"wyłączono","v":0},{"p":"szczęśliwy","t":"jeden","v":0},{"p":"szczęśliwy","t":"czytać","v":0},{"p":"szczęśliwy","t":"siedem","v":0},{"p":"szczęśliwy","t":"sześć","v":0},{"p":"szczęśliwy","t":"trzy","v":0},{"p":"szczęśliwy","t":"drzewo","v":0},{"p":"szczęśliwy","t":"dwa","v":0},{"p":"szczęśliwy","t":"pisać","v":0},{"p":"szczęśliwy","t":"tak","v":0},{"p":"szczęśliwy","t":"zero","v":0},
      {"p":"dom","t":"wstecz","v":0},{"p":"dom","t":"łóżko","v":0},{"p":"dom","t":"ptak","v":0},{"p":"dom","t":"kot","v":0},{"p":"dom","t":"pies","v":0},{"p":"dom","t":"osiem","v":0},{"p":"dom","t":"pięć","v":0},{"p":"dom","t":"cztery","v":0},{"p":"dom","t":"iść","v":0},{"p":"dom","t":"szczęśliwy","v":0},{"p":"dom","t":"dom","v":0.97},{"p":"dom","t":"po lewej","v":0},{"p":"dom","t":"dziewięć","v":0},{"p":"dom","t":"nie","v":0},{"p":"dom","t":"wyłączono","v":0.01},{"p":"dom","t":"jeden","v":0},{"p":"dom","t":"czytać","v":0},{"p":"dom","t":"siedem","v":0},{"p":"dom","t":"sześć","v":0},{"p":"dom","t":"trzy","v":0},{"p":"dom","t":"drzewo","v":0},{"p":"dom","t":"dwa","v":0},{"p":"dom","t":"pisać","v":0},{"p":"dom","t":"tak","v":0},{"p":"dom","t":"zero","v":0},
      {"p":"po lewej","t":"wstecz","v":0},{"p":"po lewej","t":"łóżko","v":0},{"p":"po lewej","t":"ptak","v":0},{"p":"po lewej","t":"kot","v":0},{"p":"po lewej","t":"pies","v":0},{"p":"po lewej","t":"osiem","v":0},{"p":"po lewej","t":"pięć","v":0},{"p":"po lewej","t":"cztery","v":0.02},{"p":"po lewej","t":"iść","v":0},{"p":"po lewej","t":"szczęśliwy","v":0},{"p":"po lewej","t":"dom","v":0},{"p":"po lewej","t":"po lewej","v":0.98},{"p":"po lewej","t":"dziewięć","v":0},{"p":"po lewej","t":"nie","v":0.01},{"p":"po lewej","t":"wyłączono","v":0},{"p":"po lewej","t":"jeden","v":0},{"p":"po lewej","t":"czytać","v":0},{"p":"po lewej","t":"siedem","v":0},{"p":"po lewej","t":"sześć","v":0},{"p":"po lewej","t":"trzy","v":0},{"p":"po lewej","t":"drzewo","v":0},{"p":"po lewej","t":"dwa","v":0},{"p":"po lewej","t":"pisać","v":0},{"p":"po lewej","t":"tak","v":0},{"p":"po lewej","t":"zero","v":0},
      {"p":"dziewięć","t":"wstecz","v":0},{"p":"dziewięć","t":"łóżko","v":0},{"p":"dziewięć","t":"ptak","v":0},{"p":"dziewięć","t":"kot","v":0},{"p":"dziewięć","t":"pies","v":0},{"p":"dziewięć","t":"osiem","v":0},{"p":"dziewięć","t":"pięć","v":0.01},{"p":"dziewięć","t":"cztery","v":0},{"p":"dziewięć","t":"iść","v":0},{"p":"dziewięć","t":"szczęśliwy","v":0.01},{"p":"dziewięć","t":"dom","v":0},{"p":"dziewięć","t":"po lewej","v":0},{"p":"dziewięć","t":"dziewięć","v":0.97},{"p":"dziewięć","t":"nie","v":0},{"p":"dziewięć","t":"wyłączono","v":0.01},{"p":"dziewięć","t":"jeden","v":0},{"p":"dziewięć","t":"czytać","v":0},{"p":"dziewięć","t":"siedem","v":0},{"p":"dziewięć","t":"sześć","v":0},{"p":"dziewięć","t":"trzy","v":0},{"p":"dziewięć","t":"drzewo","v":0},{"p":"dziewięć","t":"dwa","v":0},{"p":"dziewięć","t":"pisać","v":0},{"p":"dziewięć","t":"tak","v":0},{"p":"dziewięć","t":"zero","v":0},
      {"p":"nie","t":"wstecz","v":0},{"p":"nie","t":"łóżko","v":0},{"p":"nie","t":"ptak","v":0},{"p":"nie","t":"kot","v":0},{"p":"nie","t":"pies","v":0},{"p":"nie","t":"osiem","v":0},{"p":"nie","t":"pięć","v":0.02},{"p":"nie","t":"cztery","v":0},{"p":"nie","t":"iść","v":0.01},{"p":"nie","t":"szczęśliwy","v":0},{"p":"nie","t":"dom","v":0},{"p":"nie","t":"po lewej","v":0},{"p":"nie","t":"dziewięć","v":0},{"p":"nie","t":"nie","v":0.95},{"p":"nie","t":"wyłączono","v":0},{"p":"nie","t":"jeden","v":0},{"p":"nie","t":"czytać","v":0},{"p":"nie","t":"siedem","v":0},{"p":"nie","t":"sześć","v":0},{"p":"nie","t":"trzy","v":0},{"p":"nie","t":"drzewo","v":0},{"p":"nie","t":"dwa","v":0},{"p":"nie","t":"pisać","v":0},{"p":"nie","t":"tak","v":0.01},{"p":"nie","t":"zero","v":0},
      {"p":"wyłączono","t":"wstecz","v":0},{"p":"wyłączono","t":"łóżko","v":0},{"p":"wyłączono","t":"ptak","v":0},{"p":"wyłączono","t":"kot","v":0},{"p":"wyłączono","t":"pies","v":0},{"p":"wyłączono","t":"osiem","v":0},{"p":"wyłączono","t":"pięć","v":0},{"p":"wyłączono","t":"cztery","v":0},{"p":"wyłączono","t":"iść","v":0},{"p":"wyłączono","t":"szczęśliwy","v":0},{"p":"wyłączono","t":"dom","v":0},{"p":"wyłączono","t":"po lewej","v":0},{"p":"wyłączono","t":"dziewięć","v":0},{"p":"wyłączono","t":"nie","v":0},{"p":"wyłączono","t":"wyłączono","v":1.0},{"p":"wyłączono","t":"jeden","v":0},{"p":"wyłączono","t":"czytać","v":0},{"p":"wyłączono","t":"siedem","v":0},{"p":"wyłączono","t":"sześć","v":0},{"p":"wyłączono","t":"trzy","v":0},{"p":"wyłączono","t":"drzewo","v":0},{"p":"wyłączono","t":"dwa","v":0},{"p":"wyłączono","t":"pisać","v":0},{"p":"wyłączono","t":"tak","v":0},{"p":"wyłączono","t":"zero","v":0},
      {"p":"jeden","t":"wstecz","v":0},{"p":"jeden","t":"łóżko","v":0},{"p":"jeden","t":"ptak","v":0},{"p":"jeden","t":"kot","v":0},{"p":"jeden","t":"pies","v":0},{"p":"jeden","t":"osiem","v":0},{"p":"jeden","t":"pięć","v":0.02},{"p":"jeden","t":"cztery","v":0.01},{"p":"jeden","t":"iść","v":0},{"p":"jeden","t":"szczęśliwy","v":0},{"p":"jeden","t":"dom","v":0},{"p":"jeden","t":"po lewej","v":0.01},{"p":"jeden","t":"dziewięć","v":0.02},{"p":"jeden","t":"nie","v":0},{"p":"jeden","t":"wyłączono","v":0},{"p":"jeden","t":"jeden","v":0.91},{"p":"jeden","t":"czytać","v":0},{"p":"jeden","t":"siedem","v":0},{"p":"jeden","t":"sześć","v":0},{"p":"jeden","t":"trzy","v":0},{"p":"jeden","t":"drzewo","v":0},{"p":"jeden","t":"dwa","v":0},{"p":"jeden","t":"pisać","v":0},{"p":"jeden","t":"tak","v":0},{"p":"jeden","t":"zero","v":0},
      {"p":"czytać","t":"wstecz","v":0},{"p":"czytać","t":"łóżko","v":0},{"p":"czytać","t":"ptak","v":0},{"p":"czytać","t":"kot","v":0},{"p":"czytać","t":"pies","v":0},{"p":"czytać","t":"osiem","v":0},{"p":"czytać","t":"pięć","v":0},{"p":"czytać","t":"cztery","v":0.01},{"p":"czytać","t":"iść","v":0},{"p":"czytać","t":"szczęśliwy","v":0.03},{"p":"czytać","t":"dom","v":0},{"p":"czytać","t":"po lewej","v":0},{"p":"czytać","t":"dziewięć","v":0.01},{"p":"czytać","t":"nie","v":0},{"p":"czytać","t":"wyłączono","v":0},{"p":"czytać","t":"jeden","v":0},{"p":"czytać","t":"czytać","v":0.93},{"p":"czytać","t":"siedem","v":0},{"p":"czytać","t":"sześć","v":0.01},{"p":"czytać","t":"trzy","v":0},{"p":"czytać","t":"drzewo","v":0},{"p":"czytać","t":"dwa","v":0},{"p":"czytać","t":"pisać","v":0},{"p":"czytać","t":"tak","v":0},{"p":"czytać","t":"zero","v":0},
      {"p":"siedem","t":"wstecz","v":0},{"p":"siedem","t":"łóżko","v":0},{"p":"siedem","t":"ptak","v":0},{"p":"siedem","t":"kot","v":0},{"p":"siedem","t":"pies","v":0},{"p":"siedem","t":"osiem","v":0},{"p":"siedem","t":"pięć","v":0},{"p":"siedem","t":"cztery","v":0.02},{"p":"siedem","t":"iść","v":0},{"p":"siedem","t":"szczęśliwy","v":0},{"p":"siedem","t":"dom","v":0},{"p":"siedem","t":"po lewej","v":0},{"p":"siedem","t":"dziewięć","v":0},{"p":"siedem","t":"nie","v":0},{"p":"siedem","t":"wyłączono","v":0.01},{"p":"siedem","t":"jeden","v":0.02},{"p":"siedem","t":"czytać","v":0},{"p":"siedem","t":"siedem","v":0.93},{"p":"siedem","t":"sześć","v":0},{"p":"siedem","t":"trzy","v":0},{"p":"siedem","t":"drzewo","v":0.01},{"p":"siedem","t":"dwa","v":0},{"p":"siedem","t":"pisać","v":0},{"p":"siedem","t":"tak","v":0},{"p":"siedem","t":"zero","v":0},
      {"p":"sześć","t":"wstecz","v":0},{"p":"sześć","t":"łóżko","v":0},{"p":"sześć","t":"ptak","v":0},{"p":"sześć","t":"kot","v":0},{"p":"sześć","t":"pies","v":0},{"p":"sześć","t":"osiem","v":0},{"p":"sześć","t":"pięć","v":0},{"p":"sześć","t":"cztery","v":0},{"p":"sześć","t":"iść","v":0},{"p":"sześć","t":"szczęśliwy","v":0.01},{"p":"sześć","t":"dom","v":0},{"p":"sześć","t":"po lewej","v":0},{"p":"sześć","t":"dziewięć","v":0},{"p":"sześć","t":"nie","v":0},{"p":"sześć","t":"wyłączono","v":0},{"p":"sześć","t":"jeden","v":0},{"p":"sześć","t":"czytać","v":0},{"p":"sześć","t":"siedem","v":0},{"p":"sześć","t":"sześć","v":0.98},{"p":"sześć","t":"trzy","v":0},{"p":"sześć","t":"drzewo","v":0},{"p":"sześć","t":"dwa","v":0},{"p":"sześć","t":"pisać","v":0},{"p":"sześć","t":"tak","v":0},{"p":"sześć","t":"zero","v":0},
      {"p":"trzy","t":"wstecz","v":0},{"p":"trzy","t":"łóżko","v":0},{"p":"trzy","t":"ptak","v":0},{"p":"trzy","t":"kot","v":0},{"p":"trzy","t":"pies","v":0},{"p":"trzy","t":"osiem","v":0},{"p":"trzy","t":"pięć","v":0},{"p":"trzy","t":"cztery","v":0.04},{"p":"trzy","t":"iść","v":0},{"p":"trzy","t":"szczęśliwy","v":0.01},{"p":"trzy","t":"dom","v":0},{"p":"trzy","t":"po lewej","v":0},{"p":"trzy","t":"dziewięć","v":0},{"p":"trzy","t":"nie","v":0},{"p":"trzy","t":"wyłączono","v":0},{"p":"trzy","t":"jeden","v":0},{"p":"trzy","t":"czytać","v":0},{"p":"trzy","t":"siedem","v":0.01},{"p":"trzy","t":"sześć","v":0.03},{"p":"trzy","t":"trzy","v":0.88},{"p":"trzy","t":"drzewo","v":0.01},{"p":"trzy","t":"dwa","v":0},{"p":"trzy","t":"pisać","v":0},{"p":"trzy","t":"tak","v":0},{"p":"trzy","t":"zero","v":0},
      {"p":"drzewo","t":"wstecz","v":0},{"p":"drzewo","t":"łóżko","v":0},{"p":"drzewo","t":"ptak","v":0},{"p":"drzewo","t":"kot","v":0},{"p":"drzewo","t":"pies","v":0},{"p":"drzewo","t":"osiem","v":0},{"p":"drzewo","t":"pięć","v":0},{"p":"drzewo","t":"cztery","v":0},{"p":"drzewo","t":"iść","v":0},{"p":"drzewo","t":"szczęśliwy","v":0},{"p":"drzewo","t":"dom","v":0},{"p":"drzewo","t":"po lewej","v":0},{"p":"drzewo","t":"dziewięć","v":0},{"p":"drzewo","t":"nie","v":0},{"p":"drzewo","t":"wyłączono","v":0.01},{"p":"drzewo","t":"jeden","v":0},{"p":"drzewo","t":"czytać","v":0},{"p":"drzewo","t":"siedem","v":0},{"p":"drzewo","t":"sześć","v":0},{"p":"drzewo","t":"trzy","v":0},{"p":"drzewo","t":"drzewo","v":0.98},{"p":"drzewo","t":"dwa","v":0},{"p":"drzewo","t":"pisać","v":0},{"p":"drzewo","t":"tak","v":0},{"p":"drzewo","t":"zero","v":0},
      {"p":"dwa","t":"wstecz","v":0},{"p":"dwa","t":"łóżko","v":0.01},{"p":"dwa","t":"ptak","v":0.06},{"p":"dwa","t":"kot","v":0.01},{"p":"dwa","t":"pies","v":0},{"p":"dwa","t":"osiem","v":0},{"p":"dwa","t":"pięć","v":0},{"p":"dwa","t":"cztery","v":0},{"p":"dwa","t":"iść","v":0},{"p":"dwa","t":"szczęśliwy","v":0},{"p":"dwa","t":"dom","v":0.01},{"p":"dwa","t":"po lewej","v":0},{"p":"dwa","t":"dziewięć","v":0},{"p":"dwa","t":"nie","v":0.01},{"p":"dwa","t":"wyłączono","v":0},{"p":"dwa","t":"jeden","v":0},{"p":"dwa","t":"czytać","v":0},{"p":"dwa","t":"siedem","v":0},{"p":"dwa","t":"sześć","v":0},{"p":"dwa","t":"trzy","v":0},{"p":"dwa","t":"drzewo","v":0},{"p":"dwa","t":"dwa","v":0.89},{"p":"dwa","t":"pisać","v":0},{"p":"dwa","t":"tak","v":0.01},{"p":"dwa","t":"zero","v":0},
      {"p":"pisać","t":"wstecz","v":0},{"p":"pisać","t":"łóżko","v":0.01},{"p":"pisać","t":"ptak","v":0},{"p":"pisać","t":"kot","v":0},{"p":"pisać","t":"pies","v":0},{"p":"pisać","t":"osiem","v":0},{"p":"pisać","t":"pięć","v":0},{"p":"pisać","t":"cztery","v":0},{"p":"pisać","t":"iść","v":0},{"p":"pisać","t":"szczęśliwy","v":0},{"p":"pisać","t":"dom","v":0},{"p":"pisać","t":"po lewej","v":0},{"p":"pisać","t":"dziewięć","v":0},{"p":"pisać","t":"nie","v":0},{"p":"pisać","t":"wyłączono","v":0},{"p":"pisać","t":"jeden","v":0},{"p":"pisać","t":"czytać","v":0},{"p":"pisać","t":"siedem","v":0},{"p":"pisać","t":"sześć","v":0.01},{"p":"pisać","t":"trzy","v":0},{"p":"pisać","t":"drzewo","v":0},{"p":"pisać","t":"dwa","v":0},{"p":"pisać","t":"pisać","v":0.96},{"p":"pisać","t":"tak","v":0},{"p":"pisać","t":"zero","v":0},
      {"p":"tak","t":"wstecz","v":0},{"p":"tak","t":"łóżko","v":0},{"p":"tak","t":"ptak","v":0.07},{"p":"tak","t":"kot","v":0},{"p":"tak","t":"pies","v":0},{"p":"tak","t":"osiem","v":0},{"p":"tak","t":"pięć","v":0},{"p":"tak","t":"cztery","v":0.01},{"p":"tak","t":"iść","v":0},{"p":"tak","t":"szczęśliwy","v":0},{"p":"tak","t":"dom","v":0.01},{"p":"tak","t":"po lewej","v":0},{"p":"tak","t":"dziewięć","v":0},{"p":"tak","t":"nie","v":0.01},{"p":"tak","t":"wyłączono","v":0},{"p":"tak","t":"jeden","v":0},{"p":"tak","t":"czytać","v":0},{"p":"tak","t":"siedem","v":0},{"p":"tak","t":"sześć","v":0.02},{"p":"tak","t":"trzy","v":0},{"p":"tak","t":"drzewo","v":0},{"p":"tak","t":"dwa","v":0.01},{"p":"tak","t":"pisać","v":0},{"p":"tak","t":"tak","v":0.86},{"p":"tak","t":"zero","v":0},
      {"p":"zero","t":"wstecz","v":0},{"p":"zero","t":"łóżko","v":0},{"p":"zero","t":"ptak","v":0.02},{"p":"zero","t":"kot","v":0},{"p":"zero","t":"pies","v":0},{"p":"zero","t":"osiem","v":0.01},{"p":"zero","t":"pięć","v":0.01},{"p":"zero","t":"cztery","v":0.01},{"p":"zero","t":"iść","v":0},{"p":"zero","t":"szczęśliwy","v":0},{"p":"zero","t":"dom","v":0.02},{"p":"zero","t":"po lewej","v":0.01},{"p":"zero","t":"dziewięć","v":0},{"p":"zero","t":"nie","v":0},{"p":"zero","t":"wyłączono","v":0.02},{"p":"zero","t":"jeden","v":0.01},{"p":"zero","t":"czytać","v":0},{"p":"zero","t":"siedem","v":0},{"p":"zero","t":"sześć","v":0.01},{"p":"zero","t":"trzy","v":0},{"p":"zero","t":"drzewo","v":0.02},{"p":"zero","t":"dwa","v":0.01},{"p":"zero","t":"pisać","v":0},{"p":"zero","t":"tak","v":0.01},{"p":"zero","t":"zero","v":0.84}
    ]
  },
  "hconcat": [
    {
      "width": 1405,
      "height": 1388,
      "data": {"name": "float32"},
      "title": {"text": "(a) Float32", "orient": "bottom", "anchor": "middle", "frame": "group", "font": "Liberation Serif", "fontSize": 78, "fontWeight": "normal", "color": "#000000", "offset": 70},
      "encoding": {
        "x": {
          "field": "t", "type": "nominal", "title": "True class",
          "scale": {"domain": ["wstecz","łóżko","ptak","kot","pies","osiem","pięć","cztery","iść","szczęśliwy","dom","po lewej","dziewięć","nie","wyłączono","jeden","czytać","siedem","sześć","trzy","drzewo","dwa","pisać","tak","zero"], "paddingInner": 0, "paddingOuter": 0},
          "axis": {"labelAngle": -45, "labelAlign": "right", "labelBaseline": "middle", "labelPadding": 12, "titlePadding": 10, "labelOverlap": false, "labelLimit": 400,
                   "encode": {"labels": {"update": {"dx": {"signal": "3.25*length(datum.label)"}, "dy": {"signal": "3.25*length(datum.label)"}}}}}
        },
        "y": {
          "field": "p", "type": "nominal", "title": "Predicted class",
          "scale": {"domain": ["wstecz","łóżko","ptak","kot","pies","osiem","pięć","cztery","iść","szczęśliwy","dom","po lewej","dziewięć","nie","wyłączono","jeden","czytać","siedem","sześć","trzy","drzewo","dwa","pisać","tak","zero"], "paddingInner": 0, "paddingOuter": 0},
          "axis": {"labelPadding": 7, "titlePadding": 10, "labelLimit": 400}
        }
      },
      "layer": [
        {
          "mark": {"type": "rect", "stroke": "#808080", "strokeWidth": 1.2},
          "encoding": {
            "color": {"field": "v", "type": "quantitative",
              "scale": {"scheme": "viridis", "domain": [0, 1]},
              "legend": {"title": null, "orient": "right", "direction": "vertical", "values": [0, 0.2, 0.4, 0.6, 0.8], "format": ".1f", "gradientLength": 1388, "gradientThickness": 69, "gradientStrokeWidth": 0, "offset": 89, "labelOffset": 14, "labelFontSize": 22, "labelColor": "#000000",
                         "encode": {"labels": {"update": {"baseline": {"value": "middle"}}}}}}
          }
        },
        {
          "mark": {"type": "text", "font": "DejaVu Sans", "fontSize": 20, "align": "center", "baseline": "middle"},
          "encoding": {
            "text": {"field": "v", "type": "quantitative", "format": ".2f"},
            "color": {"condition": {"test": "datum.v > 0.5", "value": "#262626"}, "value": "#ffffff"}
          }
        }
      ]
    },
    {
      "width": 1405,
      "height": 1388,
      "data": {"name": "int8"},
      "title": {"text": "(b) INT8", "orient": "bottom", "anchor": "middle", "frame": "group", "font": "Liberation Serif", "fontSize": 78, "fontWeight": "normal", "color": "#000000", "offset": 70},
      "encoding": {
        "x": {
          "field": "t", "type": "nominal", "title": "True class",
          "scale": {"domain": ["wstecz","łóżko","ptak","kot","pies","osiem","pięć","cztery","iść","szczęśliwy","dom","po lewej","dziewięć","nie","wyłączono","jeden","czytać","siedem","sześć","trzy","drzewo","dwa","pisać","tak","zero"], "paddingInner": 0, "paddingOuter": 0},
          "axis": {"labelAngle": -45, "labelAlign": "right", "labelBaseline": "middle", "labelPadding": 12, "titlePadding": 10, "labelOverlap": false, "labelLimit": 400,
                   "encode": {"labels": {"update": {"dx": {"signal": "3.25*length(datum.label)"}, "dy": {"signal": "3.25*length(datum.label)"}}}}}
        },
        "y": {
          "field": "p", "type": "nominal", "title": "Predicted class",
          "scale": {"domain": ["wstecz","łóżko","ptak","kot","pies","osiem","pięć","cztery","iść","szczęśliwy","dom","po lewej","dziewięć","nie","wyłączono","jeden","czytać","siedem","sześć","trzy","drzewo","dwa","pisać","tak","zero"], "paddingInner": 0, "paddingOuter": 0},
          "axis": {"labelPadding": 7, "titlePadding": 10, "labelLimit": 400}
        }
      },
      "layer": [
        {
          "mark": {"type": "rect", "stroke": "#808080", "strokeWidth": 1.2},
          "encoding": {
            "color": {"field": "v", "type": "quantitative",
              "scale": {"scheme": "viridis", "domain": [0, 1]},
              "legend": {"title": null, "orient": "right", "direction": "vertical", "values": [0, 0.2, 0.4, 0.6, 0.8], "format": ".1f", "gradientLength": 1388, "gradientThickness": 69, "gradientStrokeWidth": 0, "offset": 89, "labelOffset": 14, "labelFontSize": 22, "labelColor": "#000000",
                         "encode": {"labels": {"update": {"baseline": {"value": "middle"}}}}}}
          }
        },
        {
          "mark": {"type": "text", "font": "DejaVu Sans", "fontSize": 20, "align": "center", "baseline": "middle"},
          "encoding": {
            "text": {"field": "v", "type": "quantitative", "format": ".2f"},
            "color": {"condition": {"test": "datum.v > 0.5", "value": "#262626"}, "value": "#ffffff"}
          }
        }
      ]
    }
  ],
  "resolve": {"scale": {"color": "independent"}, "legend": {"color": "independent"}},
  "config": {
    "view": {"stroke": null},
    "font": "DejaVu Sans",
    "axis": {
      "labelFont": "DejaVu Sans", "labelFontSize": 24, "labelColor": "#000000",
      "tickColor": "#000000", "tickSize": 7, "tickWidth": 1.5,
      "domain": false, "grid": false,
      "titleFont": "DejaVu Sans", "titleFontSize": 25, "titleFontWeight": "normal", "titleColor": "#000000"
    },
    "legend": {"gradientVerticalMaxLength": 2000, "labelFont": "DejaVu Sans"}
  }
}
